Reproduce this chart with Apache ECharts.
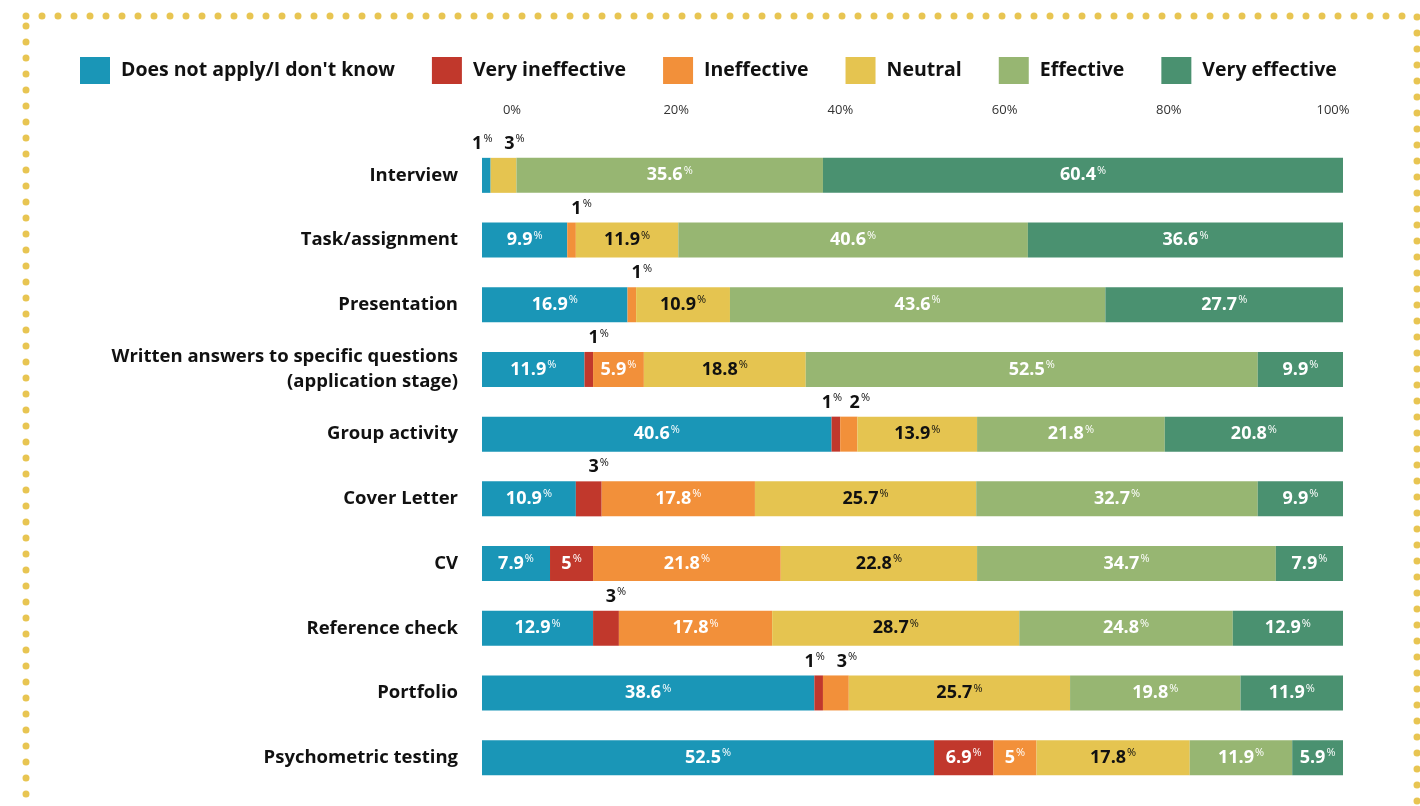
<!DOCTYPE html>
<html>
<head>
<meta charset="utf-8">
<title>Effectiveness of recruitment methods</title>
<script src="https://cdn.jsdelivr.net/npm/echarts@6/dist/echarts.min.js"></script>
<style>
  html, body { margin: 0; padding: 0; background: #ffffff; }
  #chart { width: 1420px; height: 806px; }
</style>
</head>
<body>
<div id="chart"></div>
<script>
// Recruitment methods, top to bottom
const categories = [
  'Interview',
  'Task/assignment',
  'Presentation',
  'Written answers to specific questions\n(application stage)',
  'Group activity',
  'Cover Letter',
  'CV',
  'Reference check',
  'Portfolio',
  'Psychometric testing'
];

const seriesNames = ['Does not apply/I don\'t know', 'Very ineffective', 'Ineffective', 'Neutral', 'Effective', 'Very effective'];

// Share of responses (%) per method; 0 = no responses in that band
const dontKnow        = [1,    9.9,  16.9, 11.9, 40.6, 10.9, 7.9,  12.9, 38.6, 52.5];
const veryIneffective = [0,    0,    0,    1,    1,    3,    5,    3,    1,    6.9];
const ineffective     = [0,    1,    1,    5.9,  2,    17.8, 21.8, 17.8, 3,    5];
const neutral         = [3,    11.9, 10.9, 18.8, 13.9, 25.7, 22.8, 28.7, 25.7, 17.8];
const effective       = [35.6, 40.6, 43.6, 52.5, 21.8, 32.7, 34.7, 24.8, 19.8, 11.9];
const veryEffective   = [60.4, 36.6, 27.7, 9.9,  20.8, 9.9,  7.9,  12.9, 11.9, 5.9];

const axisTicks = [0, 20, 40, 60, 80, 100];

const values = [dontKnow, veryIneffective, ineffective, neutral, effective, veryEffective];
const colors = ['#1a96b7', '#c1382c', '#f2903a', '#e5c450', '#97b672', '#4a9170'];

const FONT = '"Open Sans"';
const SMALL = 4; // values below this are labelled above the bar

function richStyles(color) {
  return {
    n: { fontFamily: FONT, fontWeight: 'bold', fontSize: 18, color: color, lineHeight: 20 },
    p: { fontFamily: FONT, fontWeight: 'normal', fontSize: 11, color: color, verticalAlign: 'top', lineHeight: 11, padding: [0, 0, 5, 1] }
  };
}

function isSmall(v) { return v > 0 && v < SMALL; }

function buildData(sIdx) {
  return values[sIdx].map(function (v, row) {
    if (!v) return { value: 0, label: { show: false } };
    if (isSmall(v)) {
      // neighbouring small segments in the same row: spread their labels apart
      let prev = 0, next = 0;
      for (let k = sIdx - 1; k >= 0; k--) { if (values[k][row]) { prev = values[k][row]; break; } }
      for (let k = sIdx + 1; k < values.length; k++) { if (values[k][row]) { next = values[k][row]; break; } }
      let dx = 10;
      if (isSmall(prev)) dx = 11;
      else if (isSmall(next)) dx = -4;
      return {
        value: v,
        label: { show: true, position: 'top', distance: 4, offset: [dx, 0], rich: richStyles('#111111') }
      };
    }
    return {
      value: v,
      label: { show: true, position: 'inside', rich: richStyles(sIdx === 3 ? '#111111' : '#ffffff') }
    };
  });
}

const series = seriesNames.map(function (name, i) {
  return {
    name: name,
    type: 'bar',
    stack: 'all',
    barWidth: 35,
    xAxisIndex: 0,
    yAxisIndex: 0,
    itemStyle: { color: colors[i] },
    label: {
      formatter: function (p) { return '{n|' + p.value + '}{p|%}'; }
    },
    emphasis: { disabled: true },
    data: buildData(i)
  };
});

const chart = echarts.init(document.getElementById('chart'), null, { renderer: 'canvas' });

chart.setOption({
  backgroundColor: '#ffffff',
  animation: false,
  textStyle: { fontFamily: FONT },
  graphic: [{
    type: 'rect',
    shape: { x: 26, y: 16, width: 1391, height: 830 },
    style: { fill: 'none', stroke: '#e8c552', lineWidth: 7, lineDash: [0, 16], lineCap: 'round' },
    silent: true,
    z: 0
  }],
  legend: {
    left: 75,
    top: 52,
    itemWidth: 30,
    itemHeight: 27,
    itemGap: 37,
    icon: 'rect',
    selectedMode: false,
    textStyle: { fontFamily: FONT, fontWeight: 'bold', fontSize: 19.5, color: '#111111', padding: [0, 0, 0, 6] },
    data: seriesNames
  },
  grid: [
    { left: 482, right: 77, top: 143, bottom: 16 },
    { left: 512, right: 87, top: 119, height: 10 }
  ],
  xAxis: [
    { type: 'value', gridIndex: 0, min: 0, max: 100, show: false },
    {
      type: 'value', gridIndex: 1, position: 'top', min: axisTicks[0], max: axisTicks[axisTicks.length - 1],
      interval: axisTicks[1] - axisTicks[0],
      axisLine: { show: false }, axisTick: { show: false }, splitLine: { show: false },
      axisLabel: { margin: 2, fontFamily: FONT, fontSize: 13, color: '#333333', formatter: '{value}%' }
    }
  ],
  yAxis: [
    {
      type: 'category', gridIndex: 0, inverse: true, data: categories,
      axisLine: { show: false }, axisTick: { show: false },
      axisLabel: { margin: 24, fontFamily: FONT, fontWeight: 'bold', fontSize: 18.5, color: '#111111', lineHeight: 25, align: 'right' }
    },
    { type: 'category', gridIndex: 1, show: false, data: ['x'] }
  ],
  series: series
});
</script>
</body>
</html>
